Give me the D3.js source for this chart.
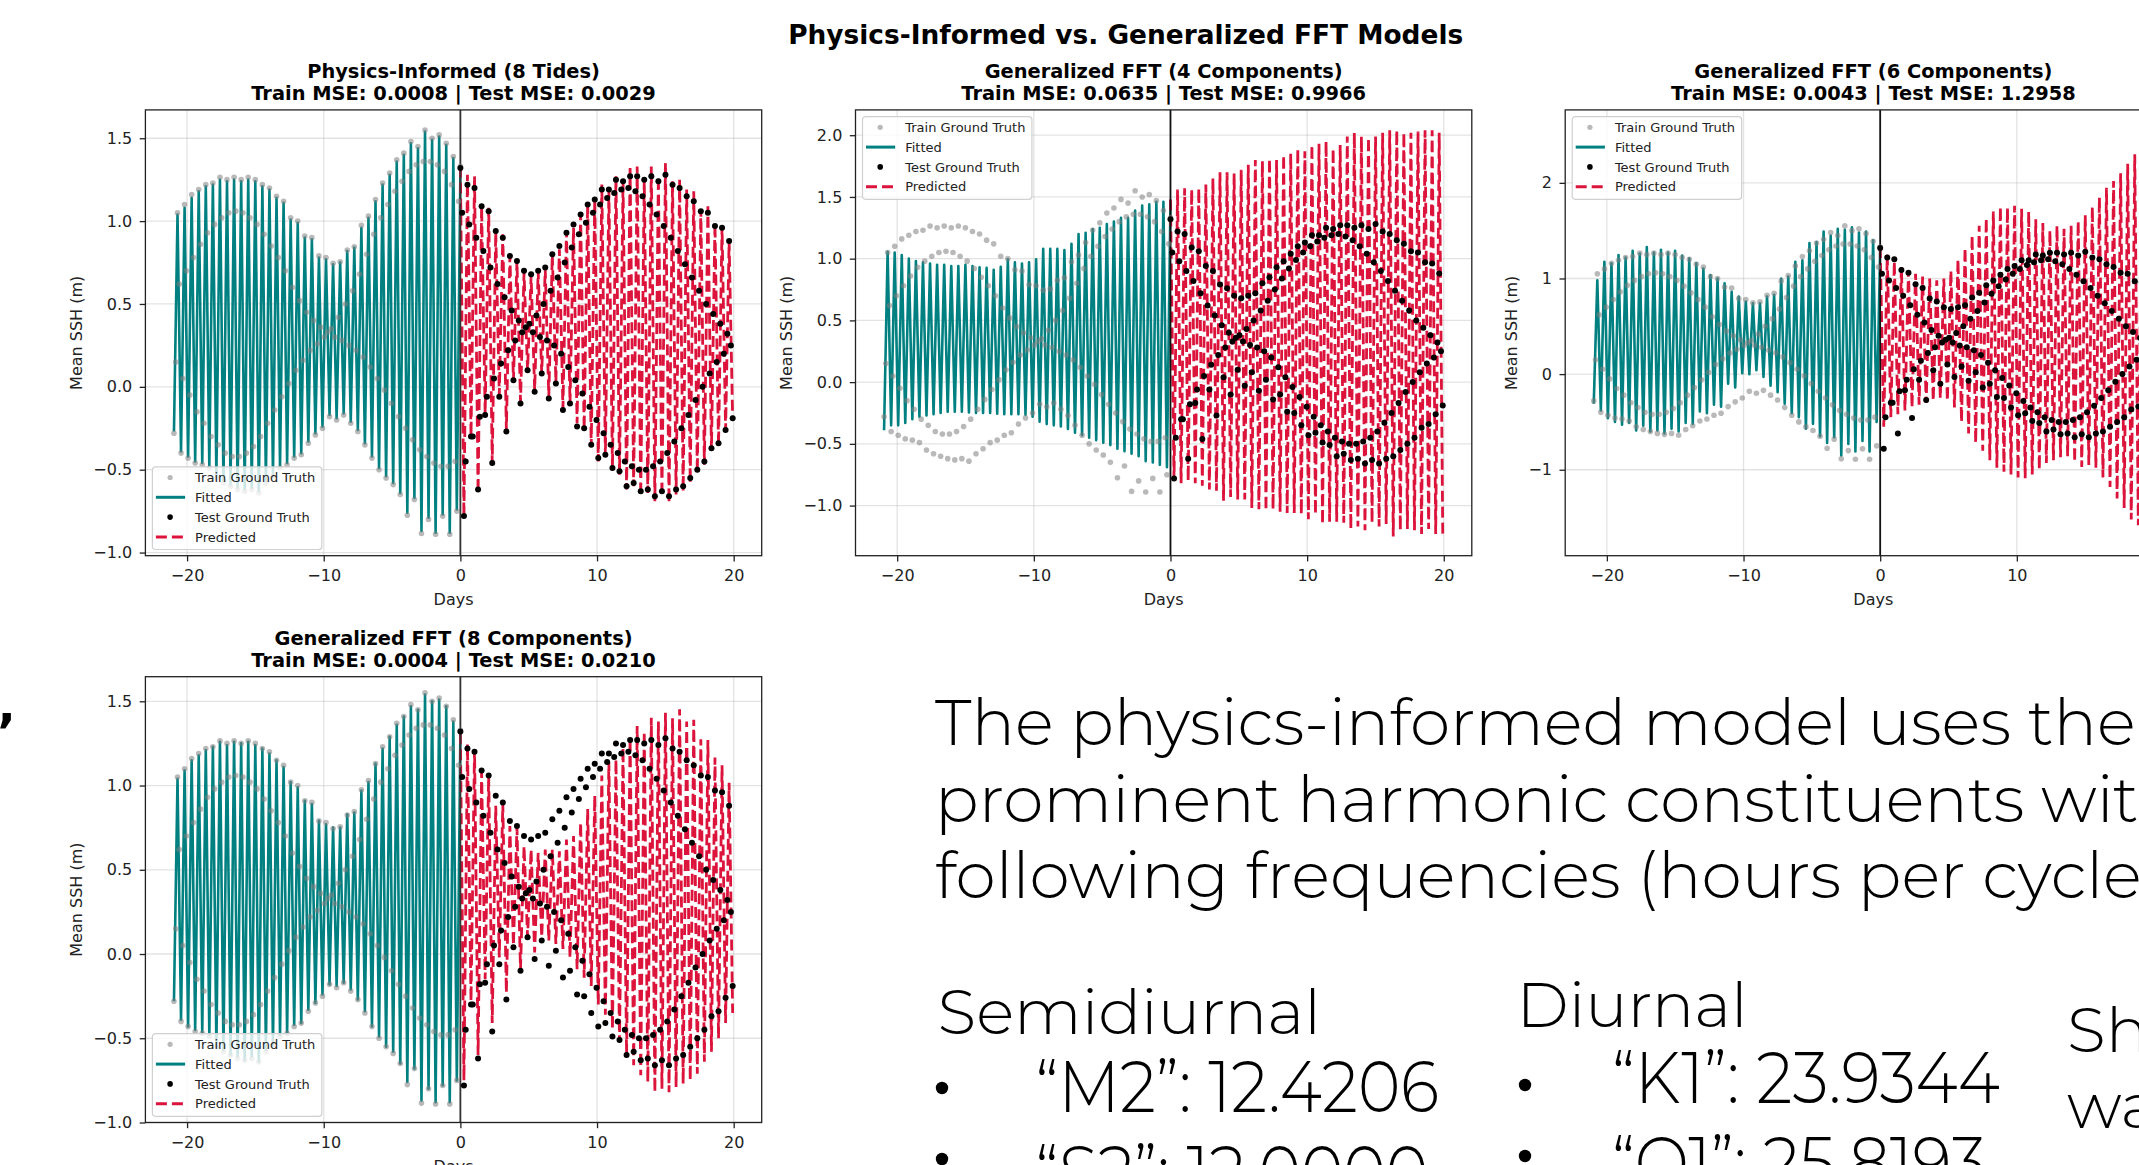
<!DOCTYPE html>
<html>
<head>
<meta charset="utf-8">
<script src="https://cdn.jsdelivr.net/npm/d3@7"></script>
<style>
  html, body { margin: 0; padding: 0; background: #fff; overflow: hidden; }
  svg { display: block; }
</style>
</head>
<body>
<div id="chart"></div>
<script>
// tide_model_panels.js
// Physics-informed vs generalized FFT fits of mean SSH, redrawn with D3.
// Each semidiurnal cycle is kept as its high and low value.

const CYCLE_DAYS = 0.5175;           // M2 period (12.42 h) in days
const TRAIN_HIGH_T0 = -20.70;        // time of first training high
const TRAIN_LOW_T0 = -20.96;         // time of first training low
const TEST_HIGH_T0 = 0.0;
const TEST_LOW_T0 = 0.26;

const X_TICKS = [-20, -10, 0, 10, 20];
const Y_TICKS_HALF = [-1.0, -0.5, 0.0, 0.5, 1.0, 1.5];
const Y_TICKS_FFT4 = [-1.0, -0.5, 0.0, 0.5, 1.0, 1.5, 2.0];
const Y_TICKS_INT = [-1, 0, 1, 2];

const PANEL_TITLES = ["Physics-Informed (8 Tides)", "Generalized FFT (4 Components)",
                      "Generalized FFT (6 Components)", "Generalized FFT (8 Components)"];
const PANEL_MSE = [["0.0008", "0.0029"], ["0.0635", "0.9966"], ["0.0043", "1.2958"], ["0.0004", "0.0210"]];
const LEGEND_LABELS = ["Train Ground Truth", "Fitted", "Test Ground Truth", "Predicted"];

// ground truth (shared by all panels): highs, lows and the two in-between samples per cycle
const TRUTH_TRAIN_HI = [1.05, 1.10, 1.16, 1.19, 1.22, 1.23, 1.265, 1.25, 1.265, 1.25, 1.265, 1.25, 1.22, 1.20, 1.15, 1.12, 1.02, 1.00, 0.91, 0.90, 0.79, 0.78, 0.745, 0.755, 0.825, 0.845, 0.975, 1.03, 1.13, 1.23, 1.29, 1.37, 1.41, 1.48, 1.45, 1.55, 1.50, 1.52, 1.47, 1.39, 1.33];
const TRUTH_TRAIN_LO = [-0.28, -0.40, -0.43, -0.46, -0.47, -0.49, -0.55, -0.58, -0.60, -0.62, -0.63, -0.62, -0.64, -0.58, -0.54, -0.49, -0.47, -0.43, -0.41, -0.34, -0.29, -0.25, -0.18, -0.20, -0.17, -0.22, -0.27, -0.35, -0.43, -0.50, -0.55, -0.59, -0.65, -0.775, -0.68, -0.885, -0.80, -0.89, -0.78, -0.89, -0.75];
const TRUTH_TRAIN_FALL = [0.62, 0.70, 0.78, 0.86, 0.93, 0.98, 1.02, 1.05, 1.06, 1.05, 1.02, 0.98, 0.92, 0.85, 0.78, 0.70, 0.60, 0.52, 0.45, 0.40, 0.36, 0.33, 0.30, 0.28, 0.25, 0.22, 0.18, 0.12, 0.05, -0.02, -0.10, -0.18, -0.25, -0.32, -0.38, -0.42, -0.46, -0.48, -0.48, -0.45];
const TRUTH_TRAIN_RISE = [0.15, 0.05, -0.05, -0.15, -0.22, -0.30, -0.35, -0.40, -0.42, -0.42, -0.40, -0.36, -0.30, -0.22, -0.14, -0.06, 0.02, 0.10, 0.16, 0.22, 0.26, 0.30, 0.35, 0.42, 0.50, 0.58, 0.68, 0.80, 0.92, 1.02, 1.10, 1.18, 1.24, 1.30, 1.34, 1.36, 1.36, 1.34, 1.30, 1.22, 1.12];
const TRUTH_TEST_HI = [1.32, 1.22, 1.20, 1.09, 1.06, 0.94, 0.90, 0.79, 0.76, 0.70, 0.68, 0.70, 0.72, 0.80, 0.85, 0.93, 0.98, 1.04, 1.10, 1.13, 1.19, 1.19, 1.25, 1.24, 1.27, 1.27, 1.25, 1.27, 1.24, 1.28, 1.22, 1.20, 1.15, 1.12, 1.06, 1.05, 0.97, 0.96, 0.88];
const TRUTH_TEST_LO = [-0.78, -0.30, -0.62, -0.17, -0.46, -0.06, -0.27, 0.04, -0.10, 0.10, -0.03, 0.08, -0.07, 0.02, -0.14, -0.10, -0.24, -0.25, -0.35, -0.43, -0.41, -0.49, -0.51, -0.60, -0.58, -0.63, -0.62, -0.66, -0.63, -0.66, -0.62, -0.60, -0.55, -0.50, -0.45, -0.37, -0.34, -0.26, -0.19];
const TRUTH_TEST_FALL = [1.05, 0.98, 0.90, 0.82, 0.72, 0.62, 0.54, 0.46, 0.40, 0.36, 0.33, 0.30, 0.28, 0.25, 0.20, 0.12, 0.04, -0.04, -0.12, -0.20, -0.28, -0.35, -0.40, -0.45, -0.48, -0.50, -0.50, -0.48, -0.45, -0.40, -0.33, -0.25, -0.17, -0.08, 0.00, 0.08, 0.15, 0.20, 0.25];
const TRUTH_TEST_RISE = [-0.45, -0.30, -0.18, -0.06, 0.05, 0.14, 0.22, 0.28, 0.33, 0.38, 0.43, 0.50, 0.58, 0.66, 0.75, 0.84, 0.92, 0.99, 1.05, 1.10, 1.14, 1.17, 1.19, 1.20, 1.18, 1.15, 1.10, 1.04, 0.97, 0.90, 0.82, 0.74, 0.66, 0.58, 0.50, 0.44, 0.38, 0.32];

// physics-informed (8 tides)
const PHYS_TRAIN_HI = [1.04, 1.08, 1.14, 1.18, 1.21, 1.22, 1.25, 1.24, 1.25, 1.24, 1.25, 1.24, 1.21, 1.19, 1.14, 1.11, 1.01, 0.99, 0.90, 0.89, 0.78, 0.77, 0.74, 0.75, 0.82, 0.84, 0.96, 1.02, 1.12, 1.22, 1.28, 1.36, 1.40, 1.47, 1.44, 1.54, 1.49, 1.51, 1.46, 1.38, 1.31];
const PHYS_TRAIN_LO = [-0.27, -0.39, -0.42, -0.45, -0.46, -0.48, -0.54, -0.57, -0.59, -0.61, -0.62, -0.61, -0.63, -0.57, -0.53, -0.48, -0.46, -0.42, -0.40, -0.33, -0.28, -0.24, -0.17, -0.19, -0.16, -0.21, -0.26, -0.34, -0.42, -0.49, -0.54, -0.58, -0.64, -0.76, -0.67, -0.87, -0.79, -0.88, -0.77, -0.88, -0.74];
const PHYS_TEST_HI = [1.33, 1.28, 1.27, 1.09, 1.08, 0.94, 0.92, 0.79, 0.76, 0.69, 0.67, 0.70, 0.71, 0.80, 0.83, 0.94, 0.96, 1.04, 1.11, 1.14, 1.22, 1.19, 1.27, 1.24, 1.32, 1.33, 1.25, 1.33, 1.27, 1.35, 1.24, 1.25, 1.19, 1.18, 1.07, 1.09, 0.99, 0.97, 0.88];
const PHYS_TEST_LO = [-0.79, -0.30, -0.64, -0.16, -0.46, -0.05, -0.26, 0.04, -0.09, 0.10, -0.02, 0.08, -0.06, 0.03, -0.13, -0.10, -0.22, -0.26, -0.36, -0.45, -0.42, -0.50, -0.53, -0.62, -0.60, -0.66, -0.64, -0.69, -0.66, -0.70, -0.65, -0.63, -0.58, -0.52, -0.47, -0.38, -0.36, -0.26, -0.20];

// generalized FFT, 4 components
const FFT4_TRAIN_HI = [1.055, 1.05, 1.03, 1.00, 0.98, 0.97, 0.96, 0.95, 0.95, 0.94, 0.94, 0.95, 0.94, 0.93, 0.925, 0.91, 0.935, 0.995, 0.97, 0.96, 0.97, 0.995, 1.08, 1.08, 1.08, 1.07, 1.12, 1.20, 1.21, 1.24, 1.25, 1.28, 1.30, 1.33, 1.33, 1.39, 1.43, 1.44, 1.46, 1.46, 1.46];
const FFT4_TRAIN_LO = [-0.39, -0.35, -0.35, -0.33, -0.30, -0.28, -0.27, -0.26, -0.25, -0.24, -0.24, -0.24, -0.245, -0.25, -0.25, -0.25, -0.255, -0.26, -0.26, -0.26, -0.265, -0.28, -0.32, -0.34, -0.35, -0.36, -0.38, -0.41, -0.43, -0.45, -0.47, -0.49, -0.51, -0.54, -0.56, -0.58, -0.60, -0.64, -0.65, -0.67, -0.69];
const FFT4_TEST_HI = [1.48, 1.56, 1.57, 1.56, 1.57, 1.60, 1.65, 1.70, 1.70, 1.69, 1.72, 1.76, 1.80, 1.79, 1.81, 1.80, 1.84, 1.85, 1.89, 1.87, 1.92, 1.93, 1.95, 1.89, 1.92, 1.99, 2.02, 1.99, 1.98, 1.99, 2.02, 2.04, 2.04, 2.02, 2.02, 2.03, 2.04, 2.04, 2.02];
const FFT4_TEST_LO = [-0.79, -0.82, -0.80, -0.82, -0.84, -0.87, -0.88, -0.96, -0.93, -0.95, -0.95, -1.02, -1.03, -1.04, -1.03, -1.05, -1.06, -1.06, -1.07, -1.11, -1.07, -1.15, -1.13, -1.13, -1.14, -1.19, -1.17, -1.20, -1.14, -1.17, -1.15, -1.25, -1.20, -1.19, -1.20, -1.23, -1.19, -1.23, -1.23];

// generalized FFT, 6 components
const FFT6_TRAIN_HI = [0.98, 1.175, 1.16, 1.245, 1.22, 1.29, 1.26, 1.33, 1.27, 1.30, 1.27, 1.29, 1.24, 1.21, 1.16, 1.105, 1.035, 1.00, 0.95, 0.86, 0.81, 0.76, 0.74, 0.74, 0.81, 0.83, 1.00, 1.02, 1.175, 1.19, 1.37, 1.38, 1.49, 1.45, 1.52, 1.51, 1.535, 1.48, 1.49, 1.40, 1.30];
const FFT6_TRAIN_LO = [-0.31, -0.38, -0.46, -0.50, -0.53, -0.51, -0.59, -0.54, -0.60, -0.59, -0.62, -0.57, -0.60, -0.51, -0.52, -0.39, -0.41, -0.32, -0.34, -0.10, -0.14, 0.01, 0.00, 0.04, -0.03, -0.12, -0.19, -0.31, -0.41, -0.45, -0.57, -0.52, -0.65, -0.72, -0.66, -0.85, -0.73, -0.81, -0.70, -0.81, -0.50];
const FFT6_TEST_HI = [1.33, 1.25, 1.18, 1.12, 1.08, 1.05, 1.02, 1.00, 0.98, 1.00, 1.08, 1.20, 1.32, 1.45, 1.55, 1.63, 1.70, 1.75, 1.74, 1.76, 1.73, 1.70, 1.62, 1.58, 1.50, 1.55, 1.52, 1.55, 1.60, 1.66, 1.75, 1.85, 1.95, 2.02, 2.10, 2.20, 2.30, 2.45, 2.55];
const FFT6_TEST_LO = [-0.55, -0.45, -0.42, -0.38, -0.35, -0.32, -0.30, -0.28, -0.25, -0.28, -0.35, -0.50, -0.62, -0.72, -0.80, -0.90, -0.98, -1.02, -1.05, -1.08, -1.09, -1.05, -1.00, -0.93, -0.90, -0.87, -0.86, -0.92, -0.97, -0.95, -0.98, -1.08, -1.18, -1.30, -1.40, -1.52, -1.58, -1.65, -1.69];

// generalized FFT, 8 components
const FFT8_TRAIN_HI = [1.04, 1.09, 1.15, 1.18, 1.21, 1.23, 1.26, 1.24, 1.26, 1.25, 1.26, 1.24, 1.22, 1.19, 1.15, 1.11, 1.02, 0.99, 0.91, 0.89, 0.79, 0.77, 0.75, 0.75, 0.83, 0.84, 0.97, 1.02, 1.13, 1.22, 1.29, 1.36, 1.41, 1.47, 1.45, 1.54, 1.50, 1.51, 1.47, 1.38, 1.32];
const FFT8_TRAIN_LO = [-0.28, -0.39, -0.43, -0.45, -0.47, -0.48, -0.55, -0.57, -0.60, -0.61, -0.63, -0.61, -0.64, -0.57, -0.54, -0.48, -0.47, -0.42, -0.41, -0.33, -0.29, -0.24, -0.18, -0.19, -0.17, -0.21, -0.27, -0.34, -0.43, -0.49, -0.55, -0.58, -0.65, -0.76, -0.68, -0.87, -0.80, -0.88, -0.78, -0.88, -0.75];
const FFT8_TEST_HI = [1.31, 1.245, 1.215, 1.08, 1.06, 0.88, 0.89, 0.76, 0.75, 0.64, 0.62, 0.60, 0.62, 0.62, 0.61, 0.68, 0.70, 0.78, 0.86, 0.94, 1.06, 1.14, 1.155, 1.225, 1.284, 1.353, 1.32, 1.403, 1.38, 1.432, 1.40, 1.452, 1.38, 1.39, 1.274, 1.27, 1.166, 1.12, 1.017];
const FFT8_TEST_LO = [-0.75, -0.28, -0.60, -0.15, -0.41, -0.02, -0.23, 0.05, -0.09, 0.10, 0.01, 0.10, 0.08, 0.06, 0.03, -0.02, -0.09, -0.14, -0.19, -0.30, -0.36, -0.45, -0.52, -0.60, -0.66, -0.72, -0.76, -0.82, -0.80, -0.82, -0.79, -0.77, -0.75, -0.71, -0.64, -0.58, -0.50, -0.41, -0.35];

const Y_LIMITS = [[-1.019, 1.671], [-1.406, 2.205], [-1.899, 2.763], [-1.0, 1.646]];
const X_LIMITS = [-23.05, 22.05];

// slide text next to the figure
const NOTE_LINES = ["The physics-informed model uses the", "prominent harmonic constituents with", "following frequencies (hours per cycle):"];
const SEMIDIURNAL = [["M2", "12.4206"], ["S2", "12.0000"]];
const DIURNAL = [["K1", "23.9344"], ["O1", "25.8193"]];
const SHALLOW = ["Shallow", "water"];

const W = 2139, H = 1165;
const AX_W = 616.3, AX_H = 445.8;
const TEAL = "#008080", CRIMSON = "#dc143c";
const MPL_FONT = "DejaVu Sans, Verdana, sans-serif";

const svg = d3.select("#chart").append("svg")
    .attr("width", W)
    .attr("height", H);

svg.append("rect").attr("width", W).attr("height", H).attr("fill", "#fff");

function cyclePoints(values, t0) {
    return values.map((v, k) => ({ t: t0 + k * CYCLE_DAYS, v: v }));
}

function zigzag(lows, lowT0, highs, highT0) {
    return cyclePoints(lows, lowT0).concat(cyclePoints(highs, highT0)).sort((a, b) => a.t - b.t);
}

const trainTruth = [].concat(
    cyclePoints(TRUTH_TRAIN_HI, TRAIN_HIGH_T0),
    cyclePoints(TRUTH_TRAIN_LO, TRAIN_LOW_T0),
    cyclePoints(TRUTH_TRAIN_FALL, TRAIN_HIGH_T0 + CYCLE_DAYS / 4),
    cyclePoints(TRUTH_TRAIN_RISE, TRAIN_LOW_T0 + CYCLE_DAYS / 4));
const testTruth = [].concat(
    cyclePoints(TRUTH_TEST_HI, TEST_HIGH_T0),
    cyclePoints(TRUTH_TEST_LO, TEST_LOW_T0),
    cyclePoints(TRUTH_TEST_FALL, TEST_HIGH_T0 + CYCLE_DAYS / 4),
    cyclePoints(TRUTH_TEST_RISE, TEST_LOW_T0 + CYCLE_DAYS / 4));

const PANELS = [
    { fitLo: PHYS_TRAIN_LO, fitHi: PHYS_TRAIN_HI, predLo: PHYS_TEST_LO, predHi: PHYS_TEST_HI,
      yTicks: Y_TICKS_HALF, fmt: ".1f", left: 145.4, top: 109.9, legend: "lower", vline: "#333" },
    { fitLo: FFT4_TRAIN_LO, fitHi: FFT4_TRAIN_HI, predLo: FFT4_TEST_LO, predHi: FFT4_TEST_HI,
      yTicks: Y_TICKS_FFT4, fmt: ".1f", left: 855.5, top: 109.9, legend: "upper", vline: "#111" },
    { fitLo: FFT6_TRAIN_LO, fitHi: FFT6_TRAIN_HI, predLo: FFT6_TEST_LO, predHi: FFT6_TEST_HI,
      yTicks: Y_TICKS_INT, fmt: "d", left: 1565.2, top: 109.9, legend: "upper", vline: "#111" },
    { fitLo: FFT8_TRAIN_LO, fitHi: FFT8_TRAIN_HI, predLo: FFT8_TEST_LO, predHi: FFT8_TEST_HI,
      yTicks: Y_TICKS_HALF, fmt: ".1f", left: 145.4, top: 676.7, legend: "lower", vline: "#333" }
];

function styleAxis(g) {
    g.select(".domain").remove();
    g.selectAll(".tick line").attr("stroke", "#222").attr("stroke-width", 1.3);
    g.selectAll(".tick text")
        .attr("fill", "#222")
        .style("font-family", MPL_FONT)
        .style("font-size", "16px");
}

function drawLegend(g, corner) {
    const lw = 169.4, lh = 82.6;
    const ly = corner === "upper" ? 6.8 : AX_H - 6.2 - lh;
    const lg = g.append("g").attr("transform", `translate(7,${ly})`);
    lg.append("rect")
        .attr("width", lw).attr("height", lh).attr("rx", 3)
        .attr("fill", "#fff").attr("fill-opacity", 0.8)
        .attr("stroke", "#d0d0d0").attr("stroke-width", 1.2);

    LEGEND_LABELS.forEach((label, i) => {
        const cy = 10.6 + i * 19.8;
        if (i === 0 || i === 2) {
            lg.append("circle")
                .attr("cx", 17.7).attr("cy", cy).attr("r", i === 0 ? 2.6 : 2.8)
                .attr("fill", i === 0 ? "#808080" : "#000")
                .attr("fill-opacity", i === 0 ? 0.55 : 1);
        } else {
            lg.append("line")
                .attr("x1", 3.5).attr("x2", 32.7).attr("y1", cy).attr("y2", cy)
                .attr("stroke", i === 1 ? TEAL : CRIMSON)
                .attr("stroke-width", 3)
                .attr("stroke-dasharray", i === 3 ? "11,5" : null);
        }
        lg.append("text")
            .attr("x", 42.7).attr("y", cy).attr("dy", "0.36em")
            .style("font-family", MPL_FONT).style("font-size", "13px")
            .attr("fill", "#222")
            .text(label);
    });
}

function drawPanel(p, i) {
    const g = svg.append("g").attr("transform", `translate(${p.left},${p.top})`);

    const x = d3.scaleLinear().domain(X_LIMITS).range([0, AX_W]);
    const y = d3.scaleLinear().domain(Y_LIMITS[i]).range([AX_H, 0]);

    // grid
    g.append("g").selectAll("line").data(X_TICKS).join("line")
        .attr("x1", d => x(d)).attr("x2", d => x(d))
        .attr("y1", 0).attr("y2", AX_H)
        .attr("stroke", "#b0b0b0").attr("stroke-opacity", 0.35).attr("stroke-width", 1.3);
    g.append("g").selectAll("line").data(p.yTicks).join("line")
        .attr("x1", 0).attr("x2", AX_W)
        .attr("y1", d => y(d)).attr("y2", d => y(d))
        .attr("stroke", "#b0b0b0").attr("stroke-opacity", 0.35).attr("stroke-width", 1.3);

    const clipId = "clip-" + i;
    g.append("clipPath").attr("id", clipId)
        .append("rect").attr("width", AX_W).attr("height", AX_H);
    const plot = g.append("g").attr("clip-path", `url(#${clipId})`);

    const line = d3.line()
        .x(d => x(d.t))
        .y(d => y(d.v));

    plot.append("path")
        .datum(zigzag(p.fitLo, TRAIN_LOW_T0, p.fitHi, TRAIN_HIGH_T0))
        .attr("d", line)
        .attr("fill", "none")
        .attr("stroke", TEAL)
        .attr("stroke-width", 2.6)
        .attr("stroke-linejoin", "round");

    plot.append("path")
        .datum(zigzag(p.predLo, TEST_LOW_T0, p.predHi, TEST_HIGH_T0))
        .attr("d", line)
        .attr("fill", "none")
        .attr("stroke", CRIMSON)
        .attr("stroke-width", 2.8)
        .attr("stroke-dasharray", "11,5");

    plot.append("line")
        .attr("x1", x(0)).attr("x2", x(0))
        .attr("y1", 0).attr("y2", AX_H)
        .attr("stroke", p.vline).attr("stroke-width", 1.8);

    plot.append("g").selectAll("circle").data(trainTruth).join("circle")
        .attr("cx", d => x(d.t)).attr("cy", d => y(d.v)).attr("r", 2.8)
        .attr("fill", "#808080").attr("fill-opacity", 0.55);

    plot.append("g").selectAll("circle").data(testTruth).join("circle")
        .attr("cx", d => x(d.t)).attr("cy", d => y(d.v)).attr("r", 3)
        .attr("fill", "#000");

    // frame
    g.append("rect")
        .attr("width", AX_W).attr("height", AX_H)
        .attr("fill", "none").attr("stroke", "#222").attr("stroke-width", 1.3);

    // axes
    g.append("g")
        .attr("transform", `translate(0,${AX_H})`)
        .call(d3.axisBottom(x).tickValues(X_TICKS).tickSize(5.7).tickPadding(8).tickFormat(d3.format("d")))
        .call(styleAxis);

    const ya = g.append("g")
        .call(d3.axisLeft(y).tickValues(p.yTicks).tickSize(5.7).tickPadding(7.5).tickFormat(d3.format(p.fmt)))
        .call(styleAxis);

    let maxW = 0;
    ya.selectAll(".tick text").each(function () {
        maxW = Math.max(maxW, this.getBBox().width);
    });

    g.append("text")
        .attr("transform", `translate(${-(5.7 + 7.5 + maxW + 11)},${AX_H / 2}) rotate(-90)`)
        .attr("text-anchor", "middle")
        .style("font-family", MPL_FONT).style("font-size", "16px")
        .attr("fill", "#222")
        .text("Mean SSH (m)");

    g.append("text")
        .attr("x", AX_W / 2).attr("y", AX_H + 49.3)
        .attr("text-anchor", "middle")
        .style("font-family", MPL_FONT).style("font-size", "16px")
        .attr("fill", "#222")
        .text("Days");

    // two-line title
    const mse = PANEL_MSE[i];
    [PANEL_TITLES[i], `Train MSE: ${mse[0]} | Test MSE: ${mse[1]}`].forEach((t, j) => {
        g.append("text")
            .attr("x", AX_W / 2).attr("y", -31.9 + j * 22)
            .attr("text-anchor", "middle")
            .style("font-family", MPL_FONT).style("font-size", "19.4px").style("font-weight", "bold")
            .attr("fill", "#000")
            .text(t);
    });

    drawLegend(g, p.legend);
}

svg.append("text")
    .attr("x", 1125.7).attr("y", 44.4)
    .attr("text-anchor", "middle")
    .style("font-family", MPL_FONT).style("font-size", "26.4px").style("font-weight", "bold")
    .text("Physics-Informed vs. Generalized FFT Models");

PANELS.forEach(drawPanel);

// ---- slide text ----
const SLIDE_FONT = "Montserrat, Lato, 'Open Sans', sans-serif";

function slideText(str, x, y, size) {
    return svg.append("text")
        .attr("transform", `translate(${x},${y})`)
        .style("font-family", SLIDE_FONT)
        .style("font-size", size + "px")
        .style("font-weight", 300)
        .attr("fill", "#000")
        .text(str);
}

function stretch(sel, x, y, s) {
    sel.attr("transform", `translate(${x},${y}) scale(${s},1)`);
}

// paragraph
const noteSel = NOTE_LINES.map((t, i) => slideText(t, 935, 745 + i * 76.7, 64));
const noteScale = 1201 / noteSel[0].node().getComputedTextLength();
noteSel.forEach((s, i) => stretch(s, 935, 745 + i * 76.7, noteScale));

// headers
const semiHead = slideText("Semidiurnal", 937.5, 1034, 62);
const headScale = 383.5 / semiHead.node().getComputedTextLength();
stretch(semiHead, 937.5, 1034, headScale);
const diHead = slideText("Diurnal", 1516.6, 1026.7, 62);
stretch(diHead, 1516.6, 1026.7, 231 / diHead.node().getComputedTextLength());
SHALLOW.forEach((t, i) => stretch(slideText(t, 2067, 1051.7 + i * 76.3, 62), 2067, 1051.7 + i * 76.3, headScale));

// bullet lists
function bulletList(items, bulletX, bulletY, textX, baseY, target) {
    let scale = 1;
    items.forEach((it, i) => {
        const yy = baseY + i * 85;
        svg.append("circle").attr("cx", bulletX).attr("cy", bulletY + i * 71).attr("r", 6.2).attr("fill", "#000");
        const sel = slideText(`\u201C${it[0]}\u201D: ${it[1]}`, textX, yy, 72);
        if (i === 0) scale = target / sel.node().getComputedTextLength();
        stretch(sel, textX, yy, scale);
    });
}
bulletList(SEMIDIURNAL, 942, 1088, 1035.4, 1111.7, 403.8);
bulletList(DIURNAL, 1525, 1085, 1612, 1103.3, 388);

// stray glyph from the slide's left column
svg.append("text")
    .attr("x", -3).attr("y", 748.5)
    .style("font-family", MPL_FONT).style("font-size", "50px").style("font-weight", "bold")
    .text("\u2019");
</script>
</body>
</html>
